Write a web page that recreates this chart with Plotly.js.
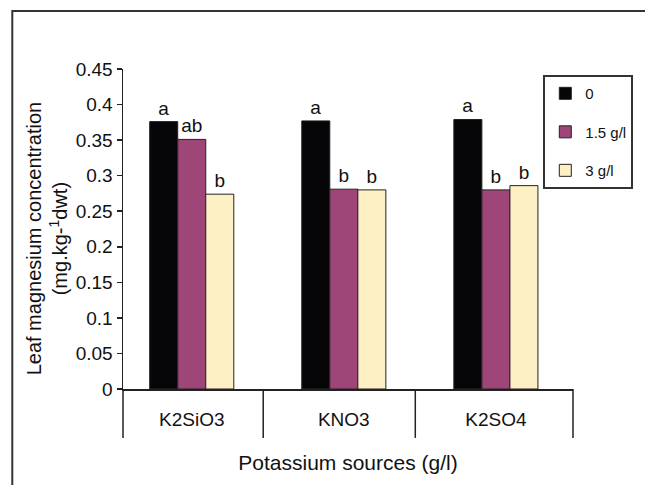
<!DOCTYPE html>
<html>
<head>
<meta charset="utf-8">
<script src="https://cdn.plot.ly/plotly-3.0.1.min.js"></script>
<style>html,body{margin:0;padding:0;background:#fff;}#chart{width:645px;height:485px;}</style>
</head>
<body>
<div id="chart"></div>
<script>
const categories = ["K2SiO3", "KNO3", "K2SO4"];
const seriesNames = ["0", "1.5 g/l", "3 g/l"];
const values0 = [0.376, 0.377, 0.379];
const values15 = [0.351, 0.281, 0.280];
const values3 = [0.274, 0.280, 0.286];
const letters0 = ["a", "a", "a"];
const letters15 = ["ab", "b", "b"];
const letters3 = ["b", "b", "b"];
const yTickVals = [0, 0.05, 0.1, 0.15, 0.2, 0.25, 0.3, 0.35, 0.4, 0.45];
const yTickText = ["0", "0.05", "0.1", "0.15", "0.2", "0.25", "0.3", "0.35", "0.4", "0.45"];
const yTitle = "Leaf magnesium concentration<br>(mg.kg-<sup>1</sup>dwt)";
const xTitle = "Potassium sources (g/l)";

const colors = ["#060608", "#9d4677", "#fdf0c4"];
const FONT = "Liberation Sans, Arial, sans-serif";
const allValues = [values0, values15, values3];
const allLetters = [letters0, letters15, letters3];

const traces = seriesNames.map((name, i) => ({
  type: "bar",
  name: name,
  x: categories,
  y: allValues[i],
  text: allLetters[i],
  textposition: "outside",
  textfont: {family: FONT, size: 19, color: "#111"},
  constraintext: "none",
  cliponaxis: false,
  legendgroup: "g" + i,
  marker: {color: colors[i], line: {color: "#222", width: 1}},
  hoverinfo: "x+y"
}));

const below = -0.153;
const shapes = [
  {type: "rect", xref: "paper", yref: "paper", x0: -0.246, x1: 1.3, y0: -0.5, y1: 1.181,
   line: {color: "#333", width: 2}, fillcolor: "rgba(0,0,0,0)", layer: "below"},
  {type: "line", xref: "paper", yref: "paper", x0: 0, x1: 0, y0: 0, y1: below, line: {color: "#222", width: 1.5}},
  {type: "line", xref: "paper", yref: "paper", x0: 1, x1: 1, y0: 0, y1: below, line: {color: "#222", width: 1.5}}
];
for (let i = 0; i < categories.length - 1; i++) {
  shapes.push({type: "line", xref: "x", yref: "paper", x0: i + 0.47, x1: i + 0.47, y0: 0, y1: below,
               line: {color: "#222", width: 1.5}});
}

const layout = {
  width: 645, height: 485,
  margin: {l: 123, r: 67, t: 69, b: 96},
  paper_bgcolor: "#fff", plot_bgcolor: "#fff",
  font: {family: FONT, color: "#111"},
  barmode: "group",
  bargap: 0.447,
  bargroupgap: 0,
  showlegend: true,
  legend: {
    x: 1.134, xanchor: "right", y: 0.981, yanchor: "top",
    bgcolor: "#fff", bordercolor: "#333", borderwidth: 2,
    font: {family: FONT, size: 15, color: "#111"},
    traceorder: "grouped", tracegroupgap: 16, itemwidth: 30
  },
  xaxis: {
    type: "category",
    range: [-0.452, 2.507],
    showline: true, linecolor: "#222", linewidth: 1.5,
    ticks: "", showgrid: false, zeroline: false,
    tickfont: {family: FONT, size: 19, color: "#111"},
    ticklabelstandoff: 13,
    title: {text: xTitle, font: {family: FONT, size: 21, color: "#111"}, standoff: 26}
  },
  yaxis: {
    range: [0, 0.45],
    tickvals: yTickVals, ticktext: yTickText,
    showline: true, linecolor: "#222", linewidth: 1.5,
    ticks: "outside", ticklen: 5, tickcolor: "#222", tickwidth: 1.5,
    showgrid: false, zeroline: false,
    tickfont: {family: FONT, size: 19, color: "#111"}
  },
  annotations: [{
    text: yTitle, textangle: -90, showarrow: false,
    xref: "paper", yref: "paper", x: -0.168, y: 0.472,
    xanchor: "center", yanchor: "middle", align: "center",
    font: {family: FONT, size: 20, color: "#111"}
  }],
  shapes: shapes
};

Plotly.newPlot("chart", traces, layout, {displayModeBar: false, staticPlot: true});
</script>
</body>
</html>
